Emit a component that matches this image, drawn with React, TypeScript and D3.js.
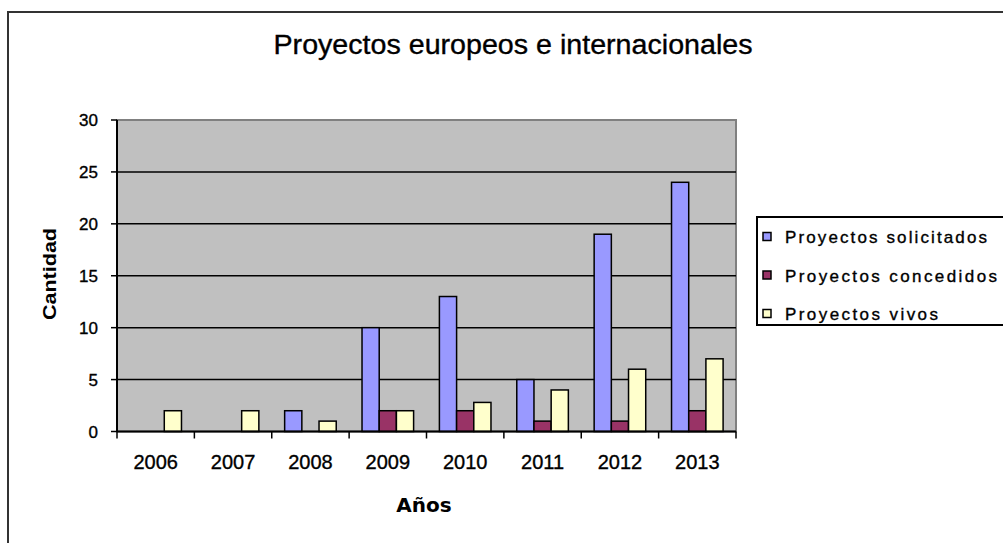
import React from "react";
import * as d3 from "d3";

const years = ["2006", "2007", "2008", "2009", "2010", "2011", "2012", "2013"];
const seriesNames = ["Proyectos solicitados", "Proyectos concedidos", "Proyectos vivos"];
const solicitados = [0, 0, 2, 10, 13, 5, 19, 24];
const concedidos = [0, 0, 0, 2, 2, 1, 1, 2];
const vivos = [2, 2, 1, 2, 2.8, 4, 6, 7];
const seriesColors = ["#9999FF", "#993366", "#FFFFCC"];
const yTicks = [0, 5, 10, 15, 20, 25, 30];
const legendWidths = [202, 212, 153];

const W = 1003;
const H = 543;
const plot = { left: 117, right: 736, top: 120, bottom: 431.5 };

export default function App() {
  const seriesValues = [solicitados, concedidos, vivos];
  const x0 = d3.scaleBand<string>().domain(years).range([plot.left, plot.right]).padding(0);
  const bw = x0.bandwidth();
  const gap = (bw * 1.5) / 4.5;
  const x1 = d3.scaleBand<string>().domain(seriesNames).range([gap / 2, bw - gap / 2]).padding(0);
  const y = d3.scaleLinear().domain([0, 30]).range([plot.bottom, plot.top]);

  const font = "'Liberation Sans', Arial, sans-serif";
  const heavy = { stroke: "#000", strokeWidth: 0.35 };

  return (
    <svg width={W} height={H} style={{ position: "absolute", left: 0, top: 0, background: "#fff" }}>
      {/* outer frame */}
      <rect x={8} y={12} width={W + 10} height={H + 10} fill="#fff" stroke="#333" strokeWidth={2} />

      {/* title */}
      <text
        x={513}
        y={54}
        textAnchor="middle"
        fontFamily={font}
        fontSize={27}
        textLength={479}
        lengthAdjust="spacingAndGlyphs"
        fill="#000"
        {...heavy}
      >
        Proyectos europeos e internacionales
      </text>

      {/* plot background */}
      <rect
        x={plot.left}
        y={plot.top}
        width={plot.right - plot.left}
        height={plot.bottom - plot.top}
        fill="#C0C0C0"
        stroke="#808080"
        strokeWidth={2}
      />

      {/* gridlines */}
      {yTicks.filter((t) => t > 0 && t < 30).map((t) => (
        <line key={t} x1={plot.left} x2={plot.right} y1={y(t)} y2={y(t)} stroke="#000" strokeWidth={1.5} />
      ))}

      {/* bars */}
      {years.map((yr, i) => (
        <g key={yr} transform={`translate(${x0(yr)},0)`}>
          {seriesNames.map((s, j) => {
            const v = seriesValues[j][i];
            if (v <= 0) return null;
            return (
              <rect
                key={s}
                x={x1(s)}
                y={y(v)}
                width={x1.bandwidth()}
                height={y(0) - y(v)}
                fill={seriesColors[j]}
                stroke="#000"
                strokeWidth={1.5}
              />
            );
          })}
        </g>
      ))}

      {/* axes */}
      <line x1={plot.left} x2={plot.left} y1={plot.top} y2={plot.bottom} stroke="#000" strokeWidth={2} />
      <line x1={plot.left} x2={plot.right} y1={plot.bottom} y2={plot.bottom} stroke="#000" strokeWidth={2} />
      {yTicks.map((t) => (
        <g key={t}>
          <line x1={plot.left - 6} x2={plot.left} y1={y(t)} y2={y(t)} stroke="#000" strokeWidth={1.5} />
          <text x={98} y={y(t)} dy="0.36em" textAnchor="end" fontFamily={font} fontSize={17} fill="#000" {...heavy}>
            {t}
          </text>
        </g>
      ))}
      {years.map((yr) => (
        <line
          key={"t" + yr}
          x1={(x0(yr) as number) + bw}
          x2={(x0(yr) as number) + bw}
          y1={plot.bottom}
          y2={plot.bottom + 7}
          stroke="#000"
          strokeWidth={1.5}
        />
      ))}
      <line x1={plot.left} x2={plot.left} y1={plot.bottom} y2={plot.bottom + 7} stroke="#000" strokeWidth={1.5} />
      {years.map((yr) => (
        <text
          key={"l" + yr}
          x={(x0(yr) as number) + bw / 2}
          y={469}
          textAnchor="middle"
          fontFamily={font}
          fontSize={20}
          fill="#000"
          {...heavy}
        >
          {yr}
        </text>
      ))}

      {/* axis titles */}
      <text
        x={424}
        y={512}
        textAnchor="middle"
        fontFamily="'DejaVu Sans', Verdana, sans-serif"
        fontWeight="bold"
        fontSize={20}
        fill="#000"
      >
        Años
      </text>
      <text
        transform="translate(56,274) rotate(-90)"
        textAnchor="middle"
        fontFamily={font}
        fontWeight="bold"
        fontSize={18}
        textLength={92}
        lengthAdjust="spacingAndGlyphs"
        fill="#000"
      >
        Cantidad
      </text>

      {/* legend */}
      <rect x={757} y={217} width={260} height={108} fill="#fff" stroke="#000" strokeWidth={2} />
      {seriesNames.map((s, j) => (
        <g key={s} transform={`translate(0,${j * 38.5})`}>
          <rect x={763} y={232.5} width={8} height={8} fill={seriesColors[j]} stroke="#000" strokeWidth={1.5} />
          <text
            x={785}
            y={243}
            fontFamily={font}
            fontSize={17}
            textLength={legendWidths[j]}
            lengthAdjust="spacing"
            fill="#000"
            {...heavy}
          >
            {s}
          </text>
        </g>
      ))}
    </svg>
  );
}
